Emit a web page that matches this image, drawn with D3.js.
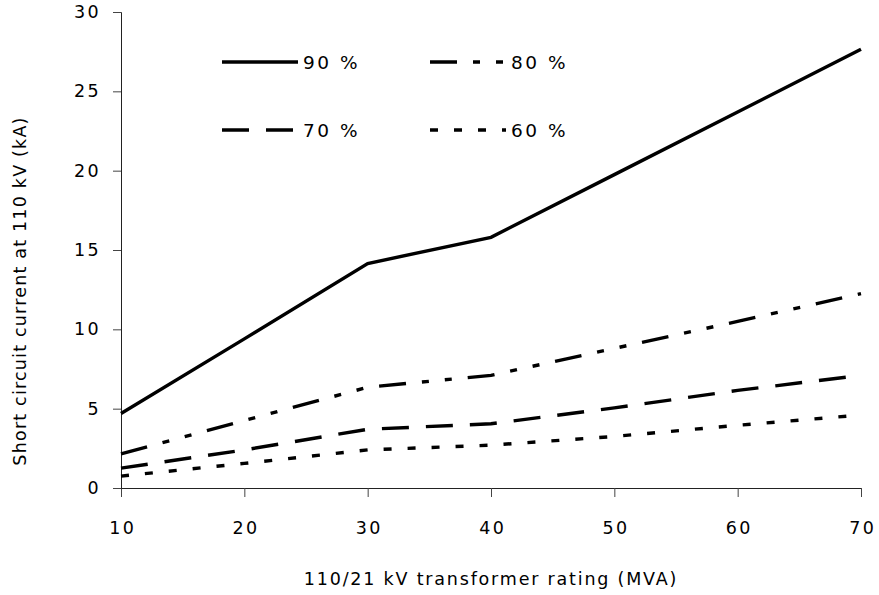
<!DOCTYPE html>
<html>
<head>
<meta charset="utf-8">
<script src="https://cdn.jsdelivr.net/npm/d3@7"></script>
<style>
  html, body { margin: 0; padding: 0; background: #fff; }
  svg text { font-family: "DejaVu Sans", sans-serif; fill: #000; }
</style>
</head>
<body>
<svg id="chart" width="879" height="595"></svg>
<script>
// Transformer rating (MVA)
const ratings = [10, 20, 30, 40, 50, 60, 70];
// Short circuit current at 110 kV (kA) for each loading level
const load90 = [4.7, 9.4, 14.15, 15.8, 19.75, 23.7, 27.65];
const load80 = [2.15, 4.25, 6.35, 7.1, 8.8, 10.5, 12.25];
const load70 = [1.25, 2.4, 3.7, 4.05, 5.05, 6.15, 7.1];
const load60 = [0.75, 1.55, 2.4, 2.7, 3.25, 3.95, 4.6];

const seriesNames = ["90 %", "80 %", "70 %", "60 %"];
const xTicks = [10, 20, 30, 40, 50, 60, 70];
const yTicks = [0, 5, 10, 15, 20, 25, 30];

const series = [
  { name: seriesNames[0], values: load90, dash: null },
  { name: seriesNames[1], values: load80, dash: "27,16,7,16,7,16" },
  { name: seriesNames[2], values: load70, dash: "27,17" },
  { name: seriesNames[3], values: load60, dash: "8,16" }
];

const svg = d3.select("#chart");
const plotLeft = 121, plotRight = 861, plotTop = 12, plotBottom = 488;

const x = d3.scaleLinear().domain([10, 70]).range([plotLeft, plotRight]);
const y = d3.scaleLinear().domain([0, 30]).range([plotBottom, plotTop]);

// Axes
const xAxis = svg.append("g")
  .attr("transform", `translate(0,${plotBottom})`)
  .call(d3.axisBottom(x).tickValues(xTicks).tickSize(9).tickPadding(25).tickFormat(d3.format("d")));
const yAxis = svg.append("g")
  .attr("transform", `translate(${plotLeft},0)`)
  .call(d3.axisLeft(y).tickValues(yTicks).tickSize(8).tickPadding(12).tickFormat(d3.format("d")));

[xAxis, yAxis].forEach(g => {
  g.select(".domain").attr("stroke", "#222").attr("stroke-width", 1);
  g.selectAll(".tick line").attr("stroke", "#444").attr("stroke-width", 1);
  g.selectAll(".tick text")
    .attr("font-family", "DejaVu Sans, sans-serif")
    .attr("font-size", 17.5)
    .attr("letter-spacing", "2.4px")
    .attr("fill", "#111");
});
// keep centred x tick labels centred despite trailing letter spacing
xAxis.selectAll(".tick text").attr("dx", "1.2px");

// Axis titles
svg.append("text")
  .attr("x", 491).attr("y", 585)
  .attr("text-anchor", "middle")
  .attr("font-size", 17.5)
  .attr("letter-spacing", "1.8px")
  .attr("fill", "#111")
  .text("110/21 kV transformer rating (MVA)");

svg.append("text")
  .attr("transform", "translate(26,291) rotate(-90)")
  .attr("text-anchor", "middle")
  .attr("font-size", 17.5)
  .attr("letter-spacing", "1.2px")
  .attr("fill", "#111")
  .text("Short circuit current at 110 kV (kA)");

// Lines
const line = d3.line()
  .x((d, i) => x(ratings[i]))
  .y(d => y(d));

svg.append("g").selectAll("path")
  .data(series)
  .join("path")
  .attr("d", d => line(d.values))
  .attr("fill", "none")
  .attr("stroke", "#000")
  .attr("stroke-width", 3.4)
  .attr("stroke-linejoin", "miter")
  .attr("stroke-linecap", "butt")
  .attr("stroke-dasharray", d => d.dash);

// Legend (two columns, two rows)
const legendPos = [
  { lx: 222, ly: 62 },
  { lx: 430, ly: 62 },
  { lx: 222, ly: 130 },
  { lx: 430, ly: 130 }
];
const legend = svg.append("g").selectAll("g")
  .data(series)
  .join("g")
  .attr("transform", (d, i) => `translate(${legendPos[i].lx},${legendPos[i].ly})`);

legend.append("line")
  .attr("x1", 0).attr("x2", 76)
  .attr("y1", 0).attr("y2", 0)
  .attr("stroke", "#000")
  .attr("stroke-width", 3.4)
  .attr("stroke-linecap", "butt")
  .attr("stroke-dasharray", d => d.dash);

legend.append("text")
  .attr("x", 81).attr("y", 0).attr("dy", "0.37em")
  .attr("font-size", 18.5)
  .attr("letter-spacing", "2.5px")
  .attr("fill", "#111")
  .text(d => d.name);
</script>
</body>
</html>
